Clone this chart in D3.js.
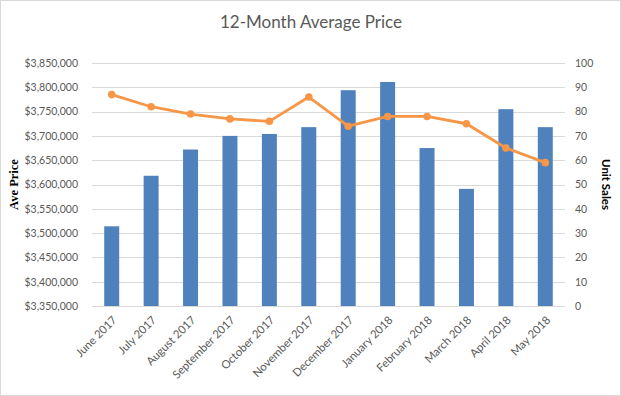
<!DOCTYPE html>
<html>
<head>
<meta charset="utf-8">
<script src="https://cdn.jsdelivr.net/npm/d3@7.9.0/dist/d3.min.js"></script>
<style>
  body { margin: 0; background: #fff; }
  svg { display: block; font-family: Lato, "Open Sans", sans-serif; }
</style>
</head>
<body>
<div id="chart"></div>
<script>
// data
const months = ["June 2017", "July 2017", "August 2017", "September 2017", "October 2017",
  "November 2017", "December 2017", "January 2018", "February 2018", "March 2018",
  "April 2018", "May 2018"];
const avgPrice = [3514000, 3618000, 3672000, 3700000, 3704000, 3718000,
  3794000, 3811000, 3675000, 3591000, 3755000, 3718000];
const unitSales = [87, 82, 79, 77, 76, 86, 74, 78, 78, 75, 65, 59];
const priceTicks = d3.range(3350000, 3850001, 50000);
const salesTicks = d3.range(0, 101, 10);

const width = 621;
const height = 396;
const area = { left: 92, right: 565, top: 63, bottom: 306 };

const svg = d3.select("#chart").append("svg")
  .attr("width", width)
  .attr("height", height);

// chart border
svg.append("rect")
  .attr("x", 0.5).attr("y", 0.5)
  .attr("width", width - 1).attr("height", height - 1)
  .attr("fill", "#fff")
  .attr("stroke", "#d9d9d9");

const x = d3.scaleBand()
  .domain(months)
  .range([area.left, area.right])
  .paddingInner(0.62)
  .paddingOuter(0.31);

const yL = d3.scaleLinear()
  .domain([3350000, 3850000])
  .range([area.bottom, area.top]);

const yR = d3.scaleLinear()
  .domain([0, 100])
  .range([area.bottom, area.top]);

// gridlines
svg.append("g")
  .selectAll("line")
  .data(priceTicks)
  .join("line")
  .attr("x1", area.left).attr("x2", area.right)
  .attr("y1", d => Math.round(yL(d)) + 0.5)
  .attr("y2", d => Math.round(yL(d)) + 0.5)
  .attr("stroke", "#d9d9d9");

// left axis labels
const fmt = d3.format("$,.0f");
svg.append("g")
  .attr("transform", `translate(${area.left - 14},0)`)
  .call(d3.axisLeft(yL).tickValues(priceTicks).tickFormat(fmt).tickSize(0).tickPadding(0))
  .call(g => g.select(".domain").remove())
  .call(g => g.selectAll("text")
    .style("font-family", "Lato, sans-serif")
    .style("font-size", "10.5px")
    .attr("fill", "#595959"));

// right axis labels
svg.append("g")
  .attr("transform", `translate(${area.right + 10},0)`)
  .call(d3.axisRight(yR).tickValues(salesTicks).tickSize(0).tickPadding(0))
  .call(g => g.select(".domain").remove())
  .call(g => g.selectAll("text")
    .style("font-family", "Lato, sans-serif")
    .style("font-size", "10.5px")
    .attr("fill", "#595959"));

// bars
svg.append("g")
  .selectAll("rect")
  .data(months)
  .join("rect")
  .attr("x", d => x(d))
  .attr("width", x.bandwidth())
  .attr("y", (d, i) => yL(avgPrice[i]))
  .attr("height", (d, i) => area.bottom - yL(avgPrice[i]))
  .attr("fill", "#4f81bd");

// x labels
svg.append("g")
  .selectAll("text")
  .data(months)
  .join("text")
  .attr("transform", d => `translate(${x(d) + x.bandwidth() / 2 + 3},${area.bottom + 12}) rotate(-45)`)
  .attr("text-anchor", "end")
  .attr("dy", "0.35em")
  .style("font-size", "11.3px")
  .attr("fill", "#595959")
  .text(d => d);

// line
const cx = d => x(d) + x.bandwidth() / 2;
const line = d3.line()
  .x(d => cx(d))
  .y((d, i) => yR(unitSales[i]));

svg.append("path")
  .datum(months)
  .attr("d", line)
  .attr("fill", "none")
  .attr("stroke", "#f79646")
  .attr("stroke-width", 2.8)
  .attr("stroke-linejoin", "round");

svg.append("g")
  .selectAll("circle")
  .data(months)
  .join("circle")
  .attr("cx", cx)
  .attr("cy", (d, i) => yR(unitSales[i]))
  .attr("r", 3.8)
  .attr("fill", "#f79646");

// title
svg.append("text")
  .attr("x", 311)
  .attr("y", 28)
  .attr("text-anchor", "middle")
  .style("font-size", "17px")
  .attr("fill", "#595959")
  .text("12-Month Average Price");

// axis titles
svg.append("text")
  .attr("transform", `translate(18,${(area.top + area.bottom) / 2}) rotate(-90)`)
  .attr("text-anchor", "middle")
  .style("font-family", "'Liberation Serif', serif")
  .style("font-weight", "bold")
  .style("font-size", "12.5px")
  .attr("fill", "#000")
  .text("Ave Price");

svg.append("text")
  .attr("transform", `translate(602,${(area.top + area.bottom) / 2}) rotate(90)`)
  .attr("text-anchor", "middle")
  .style("font-weight", "bold")
  .style("font-size", "11.5px")
  .attr("fill", "#000")
  .text("Unit Sales");
</script>
</body>
</html>
